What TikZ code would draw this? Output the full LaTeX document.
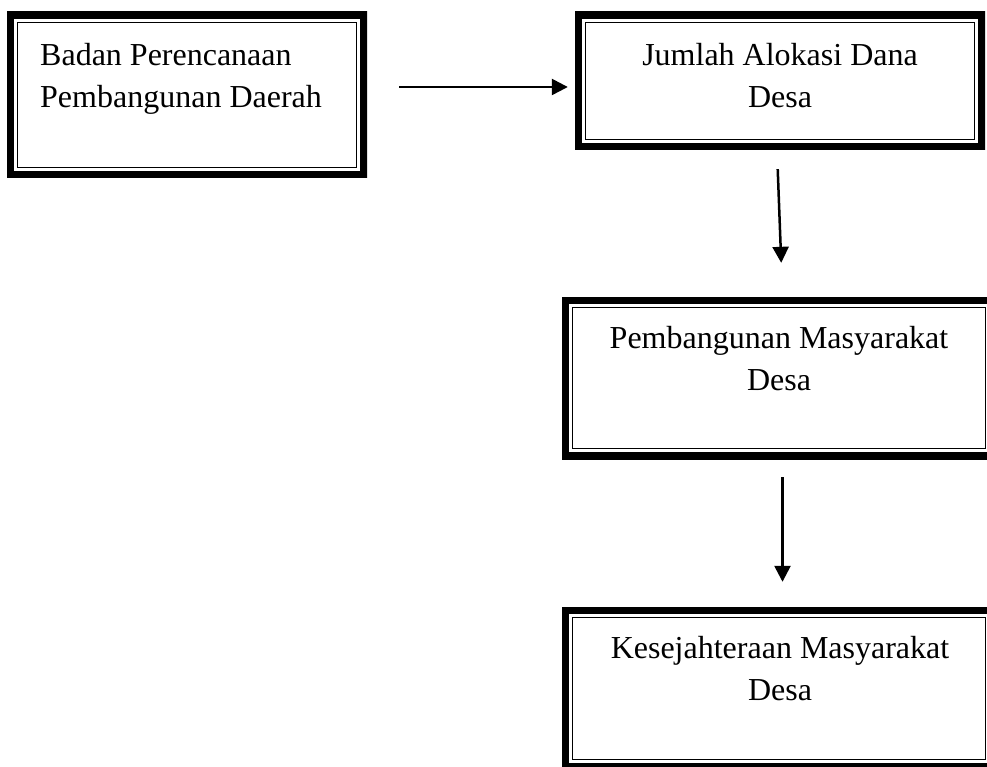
\documentclass[tikz,border=0pt]{standalone}
\usepackage{fontspec}
\setmainfont{Liberation Serif}
\usetikzlibrary{arrows.meta}
\tikzset{
  framebox/.style={rectangle, inner sep=0pt, draw=none,
    path picture={
      \draw[line width=14pt] (path picture bounding box.north west) rectangle (path picture bounding box.south east);
      \draw[line width=1.5pt] ([shift={(10.5pt,-10.5pt)}]path picture bounding box.north west) rectangle ([shift={(-10.5pt,10.5pt)}]path picture bounding box.south east);
    }},
  label text/.style={inner sep=0pt, font=\fontsize{32}{42}\selectfont},
  arr/.style={line width=2.5pt, -{Triangle[length=16pt,width=16pt]}}
}
\begin{document}
\begin{tikzpicture}[x=1pt,y=-1pt]
\useasboundingbox (0,0) rectangle (987,767);
\node[framebox, minimum width=360pt, minimum height=166pt] (b1) at (187,95) {};
\node[framebox, minimum width=410pt, minimum height=138pt] (b2) at (780,81) {};
\node[framebox, minimum width=434pt, minimum height=162pt] (b3) at (779,378) {};
\node[framebox, minimum width=434pt, minimum height=163pt] (b4) at (779,688.5) {};
\node[label text, anchor=north west, align=left] (t1) at (40,43) {Badan Perencanaan\\Pembangunan Daerah};
\node[label text, anchor=north, align=center] (t2) at (780,43) {Jumlah Alokasi Dana\\Desa};
\node[label text, anchor=north, align=center] (t3) at (779,326) {Pembangunan Masyarakat\\Desa};
\node[label text, anchor=north, align=center] (t4) at (780,636) {Kesejahteraan Masyarakat\\Desa};
\coordinate (a1s) at ([yshift=8pt]b1.east);
\draw[arr, shorten <=32pt, shorten >=7pt] (a1s) -- (a1s -| b2.west);
\draw[arr, shorten <=19pt, shorten >=34pt] ([xshift=-3pt]b2.south) -- ([xshift=3.5pt]b3.north);
\draw[arr, shorten <=18pt, shorten >=25pt] ([xshift=3.5pt]b3.south) -- ([xshift=3.5pt]b4.north);
\end{tikzpicture}
\end{document}
